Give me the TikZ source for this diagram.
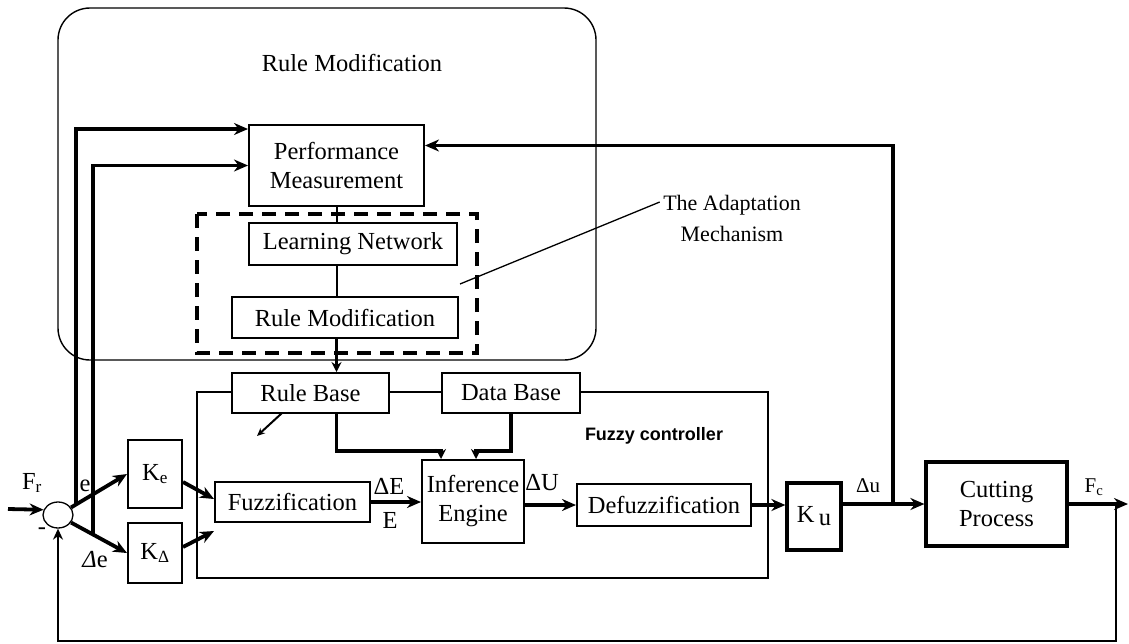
\documentclass[tikz,border=0pt]{standalone}
\usepackage{fontspec}
\setmainfont{Liberation Serif}
\newfontfamily\labelsans{Liberation Sans}
\usetikzlibrary{arrows.meta,calc,shapes.geometric}

\begin{document}
\begin{tikzpicture}[x=1pt,y=-1pt,
    font=\fontsize{24.5}{29}\selectfont,
    block/.style={draw, fill=white, line width=2pt, inner sep=0pt, align=center},
    heavybox/.style={block, line width=3.2pt},
    heavy/.style={line width=3.8pt, -{Stealth[length=14pt,width=12pt]}},
    feed/.style={line width=3.2pt, -{Stealth[length=10pt,width=10pt]}},
    link/.style={line width=2pt}]
        \useasboundingbox (0,0) rectangle (1129,643);

        % Draw the rule modification frame and the adaptation mechanism
        \draw[line width=1.4pt, rounded corners=32pt] (58,8) rectangle (596,360);
        \node (rmtitle) at (352,63) {Rule Modification};
        \draw[line width=3.2pt, dash pattern=on 14pt off 9pt] (197,214) rectangle (477,353);

        % Draw the fuzzy controller frame
        \draw[line width=1.8pt] (197,392) rectangle (768,578);
        \node[font=\labelsans\bfseries\fontsize{18}{20}\selectfont] (fclabel) at (654,436) {Fuzzy controller};

        % Blocks of the adaptation part
        \node[block, minimum width=175pt, minimum height=81pt] (perf) at (336.5,165.5) {Performance\\Measurement};
        \node[block, minimum width=208pt, minimum height=42pt] (learn) at (353,244) {Learning Network};
        \node[block, minimum width=226pt, minimum height=41pt] (rmod) at (345,317.5) {Rule Modification};

        % Blocks of the fuzzy controller
        \node[block, minimum width=157pt, minimum height=40pt] (rbase) at (310.5,393) {Rule Base};
        \node[block, minimum width=138pt, minimum height=40pt] (dbase) at (511,393) {Data Base};
        \node[block, minimum width=155pt, minimum height=40pt] (fuzz) at (292.5,502) {Fuzzification};
        \node[block, minimum width=102pt, minimum height=83pt] (infer) at (473,501.5) {Inference\\Engine};
        \node[block, minimum width=174pt, minimum height=42pt] (defuzz) at (664,505) {Defuzzification};

        % Gains, summer and plant
        \node[draw, ellipse, line width=1.3pt, minimum width=30pt, minimum height=26pt, inner sep=0pt] (sum) at (58,515) {};
        \node[block, minimum width=54pt, minimum height=68pt] (ke) at (155,474) {K\textsubscript{e}};
        \node[block, minimum width=54pt, minimum height=60pt] (kd) at (155,553) {K\textsubscript{Δ}};
        \node[heavybox, minimum width=54pt, minimum height=67pt] (ku) at (814,516.5) {K\,\raisebox{-3pt}{u}};
        \node[heavybox, minimum width=141pt, minimum height=84pt] (cut) at (996.5,504) {Cutting\\Process};

        % Signal labels
        \node (fr) at (32,483) {F\textsubscript{r}};
        \node (minus) at (42,531) {-};
        \node (elab) at (85,486) {e};
        \node (delab) at (95,560) {\textit{Δ}e};
        \node (dEl) at (389,486) {ΔE};
        \node (El) at (390,520) {E};
        \node (dUl) at (542,483) {ΔU};
        \node[font=\fontsize{21}{24}\selectfont] (dul) at (868,486) {Δu};
        \node[font=\fontsize{21}{24}\selectfont] (fcl) at (1094,487) {F\textsubscript{c}};
        \node[align=center, font=\fontsize{22}{31}\selectfont] (adapt) at (732,218) {The Adaptation\\Mechanism};

        % Free ends and tap points
        \coordinate (in) at (8,509);
        \coordinate (out) at (1128,504);
        \coordinate (tap) at (893,504);
        \coordinate (fctap) at (1116,504);
        \coordinate (rbfoot) at (282,413);
        \coordinate (rbtip) at (257,436);
        \coordinate (adtip) at (460,284);
        \coordinate (etap) at ($(sum.30)!0.09!(ke.west)$);
        \coordinate (dtap) at ($(sum.-30)!0.39!(kd.west)$);

        % Adaptation chain
        \draw[link] (perf.south) -- (perf.south |- learn.north);
        \draw[link] (perf.south |- learn.south) -- (perf.south |- rmod.north);
        \draw[feed] (perf.south |- rmod.south) -- (perf.south |- rbase.north);
        \draw[line width=2pt, -{Stealth[length=8pt,width=7pt]}] (rbfoot) -- (rbtip);
        \draw[line width=1.3pt] ([yshift=16pt]adapt.west) -- (adtip);

        % Rule base and data base into the inference engine
        \draw[feed] (rbase.south -| perf.south) -- ++(0,37) -| ([xshift=20pt]infer.north west);
        \draw[feed] (dbase.south) -- ++(0,37) -| ([xshift=55pt]infer.north west);

        % Main signal path
        \draw[heavy] (in) -- (sum.160);
        \draw[heavy] (sum.30) -- (ke.west);
        \draw[heavy] (sum.-30) -- (kd.west);
        \draw[heavy] ([yshift=-8pt]ke.east) -- ([yshift=3pt]fuzz.west);
        \draw[heavy] ([yshift=6pt]kd.east) -- ([yshift=-8pt]fuzz.south west);
        \draw[heavy] (fuzz.east) -- (infer.west |- fuzz.east);
        \draw[heavy] (infer.east |- defuzz.west) -- (defuzz.west);
        \draw[heavy] (defuzz.east) -- (ku.west |- defuzz.east);
        \draw[heavy] (ku.east |- cut.west) -- (cut.west);
        \draw[heavy] (cut.east) -- (out);

        % Feedback paths
        \draw[heavy] (etap) |- ([yshift=-5pt]perf.north west);
        \draw[heavy] (dtap) |- (perf.west);
        \draw[heavy] (tap) |- ([yshift=20pt]perf.east);
        \draw[line width=2.4pt, -{Stealth[length=11pt,width=10pt]}] (fctap) -- ++(0,137) -| (sum.south);
    \end{tikzpicture}
\end{document}
